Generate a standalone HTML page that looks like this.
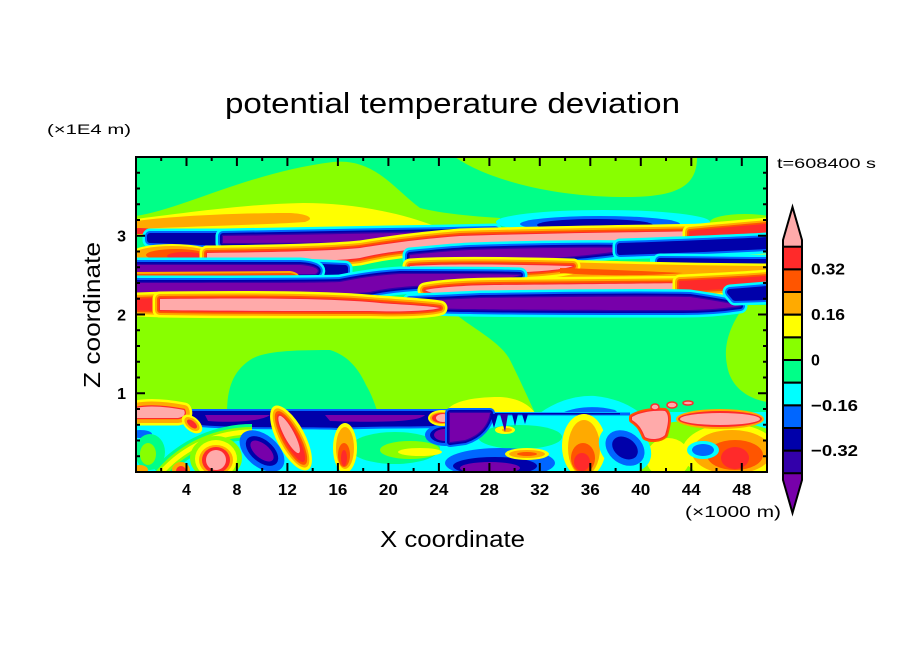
<!DOCTYPE html>
<html><head><meta charset="utf-8">
<style>
html,body{margin:0;padding:0;background:#fff;}
svg{display:block;}
text{font-family:"Liberation Sans",sans-serif;fill:#000;}
.b{font-weight:bold;}
use,path{stroke-linejoin:round;}
.n0{fill:#00ffff;stroke:#00ffff;stroke-width:15}
.n1{fill:#0066ff;stroke:#0066ff;stroke-width:10}
.n2{fill:#0000aa;stroke:#0000aa;stroke-width:6}
.n3{fill:#3300aa;stroke:#3300aa;stroke-width:2.5}
.n4{fill:#7700aa;stroke:none}
.p0{fill:#ffff00;stroke:#ffff00;stroke-width:15}
.p1{fill:#ffaa00;stroke:#ffaa00;stroke-width:10}
.p2{fill:#ff5500;stroke:#ff5500;stroke-width:6}
.p3{fill:#ff2a2a;stroke:#ff2a2a;stroke-width:2.5}
.p4{fill:#ffaaaa;stroke:none}
</style></head>
<body>
<svg width="904" height="654" viewBox="0 0 904 654" xmlns="http://www.w3.org/2000/svg">
<defs>
<clipPath id="cp"><rect x="136" y="157" width="631" height="315"/></clipPath>
<path id="bA" d="M223,236 C300,235 400,233 495,231 C485,234 470,238 460,240 C400,242 330,243 223,243 Z"/>
<path id="bAx" d="M150,236 L225,236 L225,243 L150,240 Z"/>
<path id="bB" d="M207,253 C280,252 330,251 360,248 C385,244 420,239 460,236 C560,233 650,232 717,231 C700,236 650,240 600,242 C540,244 490,246 450,247 C410,249 385,252 360,258 C330,262 260,262 207,261 Z"/>
<path id="bBx" d="M690,232 C720,229 745,227 767,225 L767,233 C740,235 715,237 690,238 Z"/>
<path id="bC" d="M136,265 L300,265 C315,266 322,270 315,274 L136,275 Z"/>
<path id="bCx" d="M300,266 L345,268 L345,272 L300,274 Z"/>
<path id="bC2" d="M410,255 C430,253 450,251 470,250 C530,248 590,247 640,248 C600,255 530,261 470,262 C440,262 420,261 410,259 Z"/>
<path id="bC2x" d="M620,246 C680,244 730,242 767,240 L767,246 C730,248 680,250 620,252 Z"/>
<path id="bBl" d="M660,261 C700,261 740,262 767,262 L767,266 C730,267 690,267 660,266 Z"/>
<path id="bD" d="M410,266 C440,264 500,264 573,266 C560,271 520,273 480,273 C440,273 420,271 410,269 Z"/>
<path id="bDx" d="M560,267 C600,268 650,270 767,271 L767,277 C650,278 600,277 560,273 Z"/>
<path id="bS" d="M136,277 L290,276 C296,277 297,280 290,281 L136,281 Z"/>
<path id="bE" d="M136,283 C250,283 320,283 340,282 C360,278 380,275 400,274 C460,274 500,274 520,275 C505,280 480,283 460,284 C420,285 390,287 370,292 C340,295 250,295 136,295 Z"/>
<path id="bFl" d="M160,299 C250,298 330,298 380,303 C410,305 430,306 440,308 C430,311 400,312 370,311 C300,311 220,311 160,310 Z"/>
<path id="bFx" d="M136,300 L165,299 L165,310 L136,309 Z"/>
<path id="bFr" d="M425,290 C440,287 470,285 500,285 C600,284 680,283 717,283 C700,288 690,291 680,292 C600,294 500,295 460,295 C440,295 430,293 425,290 Z"/>
<path id="bFrx" d="M680,282 C720,280 745,279 767,277 L767,285 C740,287 710,289 680,290 Z"/>
<path id="bG" d="M410,301 C440,300 460,299 480,298 C550,297 650,296 690,297 C710,300 730,303 740,306 C720,309 700,310 683,310 C600,310 520,310 470,309 C440,309 420,307 410,305 Z"/>
<path id="bGx" d="M730,292 L767,289 L767,297 L735,298 Z"/>
<path id="lp" d="M136,408 C150,405 168,407 184,410 C186,414 184,417 178,418 C160,418 148,418 136,418 Z"/>
<path id="st" d="M190,414 L456,414 L456,422 C420,425 380,422 340,425 C300,423 250,426 200,422 Z"/>
<path id="pl" d="M450,413 L490,413 C488,425 480,435 465,440 L450,442 Z"/>
<path id="pb" d="M632,417 C640,412 655,410 665,411 C670,415 668,425 665,435 C660,440 650,440 645,437 C642,430 640,425 632,420 Z"/>
</defs>

<g clip-path="url(#cp)">
<rect x="136" y="157" width="631" height="315" fill="#00ff88"/>
<path d="M136,216 C180,210 250,172 333,162 C375,158 395,190 420,208 C445,214 470,216 500,218 L500,235 L136,235 Z" fill="#88ff00"/>
<path d="M455,157 C480,175 540,196 620,197 C680,198 697,185 697,157 Z" fill="#88ff00"/>
<path d="M136,219 C200,211 250,204 303,203 C350,203 400,212 437,227 L437,235 L136,235 Z" fill="#ffff00"/>
<path d="M137,221 C180,215 250,213 290,213 C310,214 315,219 305,222 C260,225 200,226 137,229 Z" fill="#ffaa00"/>
<ellipse cx="140" cy="231" rx="14" ry="3" fill="#ff2a2a"/>
<ellipse cx="745" cy="222" rx="35" ry="8" fill="#88ff00"/>
<ellipse cx="752" cy="226" rx="22" ry="5" fill="#ffff00"/>
<ellipse cx="603" cy="222" rx="107" ry="12" fill="#00ffff"/>
<ellipse cx="600" cy="224" rx="80" ry="8" fill="#0066ff"/>
<ellipse cx="595" cy="225" rx="58" ry="6" fill="#0000aa"/>
<!-- middle region -->
<path d="M136,305 L445,305 C465,325 500,340 510,360 C520,380 528,398 535,413 L136,413 Z" fill="#88ff00"/>
<path d="M227,413 C227,390 232,372 250,360 C262,352 285,350 330,350 C350,356 360,372 366,385 C372,395 375,405 378,413 Z" fill="#00ff88"/>
<path d="M745,305 C730,325 723,345 727,365 C730,385 745,398 767,402 L767,305 Z" fill="#88ff00"/>
<path d="M445,413 C450,402 470,397 500,397 C520,398 530,406 535,413 Z" fill="#ffff00"/>
<path d="M540,413 C555,402 575,395 595,396 C615,398 630,405 640,413 Z" fill="#00ffff"/>
<path d="M562,413 C575,407 595,405 615,410 L618,413 Z" fill="#0066ff"/>
<!-- right band-region base -->
<rect x="650" y="238" width="117" height="62" fill="#00ffff"/>
<rect x="690" y="252" width="77" height="6" fill="#ffff00"/>

<!-- bands -->
<use href="#bAx" class="n0"/><use href="#bAx" class="n1"/><use href="#bAx" class="n2"/>
<use href="#bA" class="n0"/><use href="#bA" class="n1"/><use href="#bA" class="n2"/><use href="#bA" class="n3"/><use href="#bA" class="n4"/>
<ellipse cx="172" cy="254" rx="42" ry="10" fill="#ffff00"/>
<ellipse cx="172" cy="254" rx="38" ry="8" fill="#ffaa00"/>
<ellipse cx="176" cy="255" rx="30" ry="6" fill="#ff5500"/>
<ellipse cx="185" cy="256" rx="18" ry="4" fill="#ff2a2a"/>
<use href="#bB" class="p0"/><use href="#bB" class="p1"/><use href="#bB" class="p2"/><use href="#bB" class="p3"/><use href="#bB" class="p4"/>
<use href="#bBx" class="p0"/><use href="#bBx" class="p1"/><use href="#bBx" class="p2"/><use href="#bBx" class="p3"/>
<use href="#bC2" class="n0"/><use href="#bC2" class="n1"/><use href="#bC2" class="n2"/><use href="#bC2" class="n3"/><use href="#bC2" class="n4"/>
<use href="#bC2x" class="n0"/><use href="#bC2x" class="n1"/><use href="#bC2x" class="n2"/>
<use href="#bBl" class="n0"/><use href="#bBl" class="n1"/><use href="#bBl" class="n2"/>
<use href="#bCx" class="n0"/><use href="#bCx" class="n1"/><use href="#bCx" class="n2"/>
<use href="#bC" class="n0"/><use href="#bC" class="n1"/><use href="#bC" class="n2"/><use href="#bC" class="n3"/><use href="#bC" class="n4"/>
<use href="#bDx" class="p0"/><use href="#bDx" class="p1"/>
<use href="#bD" class="p0"/><use href="#bD" class="p1"/><use href="#bD" class="p2"/><use href="#bD" class="p3"/><use href="#bD" class="p4"/>
<path d="M560,268 C600,269 640,271 683,273 C650,276 600,276 560,273 Z" fill="#ff5500"/>
<use href="#bS" class="p1"/><use href="#bS" class="p2"/><use href="#bS" class="p3"/><use href="#bS" class="p4"/>
<use href="#bE" class="n0"/><use href="#bE" class="n1"/><use href="#bE" class="n2"/><use href="#bE" class="n3"/><use href="#bE" class="n4"/>
<use href="#bFr" class="p0"/><use href="#bFr" class="p1"/><use href="#bFr" class="p2"/><use href="#bFr" class="p3"/><use href="#bFr" class="p4"/>
<use href="#bFrx" class="p0"/><use href="#bFrx" class="p1"/><use href="#bFrx" class="p2"/><use href="#bFrx" class="p3"/>
<use href="#bG" class="n0"/><use href="#bG" class="n1"/><use href="#bG" class="n2"/><use href="#bG" class="n3"/><use href="#bG" class="n4"/>
<use href="#bGx" class="n0"/><use href="#bGx" class="n1"/><use href="#bGx" class="n2"/>
<use href="#bFx" class="p0"/><use href="#bFx" class="p1"/><use href="#bFx" class="p2"/><use href="#bFx" class="p3"/>
<use href="#bFl" class="p0"/><use href="#bFl" class="p1"/><use href="#bFl" class="p2"/><use href="#bFl" class="p3"/><use href="#bFl" class="p4"/>

<!-- boundary layer -->
<rect x="136" y="412" width="631" height="61" fill="#00ffff"/>
<use href="#st" class="n1"/><use href="#st" class="n2"/>
<path d="M205,415 L270,415 C262,421 235,423 208,421 Z" fill="#7700aa"/>
<path d="M325,415 L425,415 C420,421 390,423 330,421 Z" fill="#7700aa"/>
<ellipse cx="140" cy="434" rx="12" ry="4" fill="#0066ff"/>
<ellipse cx="150" cy="452" rx="15" ry="18" fill="#00ff88"/>
<ellipse cx="148" cy="454" rx="8" ry="11" fill="#88ff00"/>
<path d="M160,474 C185,445 220,432 252,432" fill="none" stroke="#00ff88" stroke-width="16"/>
<path d="M160,474 C185,445 220,432 252,432" fill="none" stroke="#88ff00" stroke-width="10"/>
<path d="M160,474 C185,445 220,432 252,432" fill="none" stroke="#ffff00" stroke-width="5"/>
<ellipse cx="140" cy="470" rx="8" ry="5" fill="#ffaa00"/>
<ellipse cx="181" cy="470" rx="9" ry="8" fill="#ffaa00"/>
<ellipse cx="181" cy="471" rx="5" ry="5" fill="#ff2a2a"/>
<ellipse cx="216" cy="458" rx="26" ry="22" fill="#88ff00"/>
<ellipse cx="216" cy="459" rx="21" ry="19" fill="#ffff00"/>
<ellipse cx="216" cy="460" rx="17" ry="15" fill="#ffaa00"/>
<ellipse cx="216" cy="460" rx="14" ry="13" fill="#ff2a2a"/>
<ellipse cx="216" cy="460" rx="10" ry="10" fill="#ffaaaa"/>
<g transform="rotate(40 262 451)">
<ellipse cx="262" cy="451" rx="26" ry="16" fill="#0066ff"/>
<ellipse cx="262" cy="451" rx="19" ry="11" fill="#0000aa"/>
<ellipse cx="262" cy="451" rx="14" ry="7" fill="#7700aa"/>
</g>
<g transform="rotate(62 291 438)">
<ellipse cx="291" cy="438" rx="36" ry="14" fill="#ffff00"/>
<ellipse cx="291" cy="438" rx="33" ry="11" fill="#ffaa00"/>
<ellipse cx="291" cy="438" rx="30" ry="9" fill="#ff5500"/>
<ellipse cx="291" cy="438" rx="27" ry="7" fill="#ff2a2a"/>
<ellipse cx="287" cy="438" rx="21" ry="5" fill="#ffaaaa"/>
</g>
<ellipse cx="395" cy="448" rx="45" ry="16" fill="#00ff88"/>
<ellipse cx="410" cy="450" rx="30" ry="9" fill="#88ff00"/>
<ellipse cx="420" cy="452" rx="22" ry="4" fill="#ffff00"/>
<ellipse cx="345" cy="448" rx="12" ry="25" fill="#ffff00"/>
<ellipse cx="345" cy="448" rx="9" ry="21" fill="#ffaa00"/>
<ellipse cx="344" cy="455" rx="6" ry="12" fill="#ff5500"/>
<ellipse cx="344" cy="458" rx="3" ry="8" fill="#ff2a2a"/>
<ellipse cx="445" cy="435" rx="20" ry="11" fill="#0066ff"/>
<ellipse cx="445" cy="435" rx="15" ry="8" fill="#0000aa"/>
<ellipse cx="445" cy="435" rx="11" ry="6" fill="#7700aa"/>
<ellipse cx="442" cy="418" rx="14" ry="8" fill="#ffff00"/>
<ellipse cx="442" cy="418" rx="12" ry="6" fill="#ffaa00"/>
<ellipse cx="442" cy="418" rx="10" ry="5" fill="#ff2a2a"/>
<ellipse cx="443" cy="418" rx="7" ry="4" fill="#ffaaaa"/>
<use href="#lp" class="p0"/><use href="#lp" class="p1"/><use href="#lp" class="p3"/><use href="#lp" class="p4"/>
<g transform="rotate(40 192 424)">
<ellipse cx="192" cy="424" rx="12" ry="7" fill="#ffff00"/>
<ellipse cx="192" cy="424" rx="9" ry="5" fill="#ffaa00"/>
<ellipse cx="192" cy="424" rx="6" ry="3" fill="#ff2a2a"/>
</g>
<rect x="450" y="412.5" width="180" height="3" fill="#0066ff"/>
<rect x="460" y="413" width="160" height="1.5" fill="#0000aa"/>
<ellipse cx="520" cy="437" rx="42" ry="12" fill="#00ff88"/>
<ellipse cx="505" cy="430" rx="10" ry="4" fill="#ffff00"/>
<ellipse cx="507" cy="430" rx="5" ry="2" fill="#ffaa00"/>
<use href="#pl" class="n1"/><use href="#pl" class="n2"/><use href="#pl" class="n3"/><use href="#pl" class="n4"/>
<polygon points="490,414 498,414 494,428" fill="#0000aa"/>
<polygon points="500,414 508,414 505,432" fill="#3300aa"/>
<polygon points="512,414 518,414 515,426" fill="#0000aa"/>
<polygon points="522,414 528,414 525,424" fill="#0000aa"/>
<ellipse cx="500" cy="463" rx="55" ry="15" fill="#0066ff"/>
<ellipse cx="495" cy="466" rx="42" ry="9" fill="#0000aa"/>
<ellipse cx="490" cy="468" rx="30" ry="6" fill="#7700aa"/>
<ellipse cx="527" cy="454" rx="22" ry="6" fill="#ffff00"/>
<ellipse cx="527" cy="454" rx="18" ry="4" fill="#ffaa00"/>
<ellipse cx="527" cy="454" rx="10" ry="2" fill="#ff5500"/>
<ellipse cx="584" cy="446" rx="22" ry="32" fill="#ffff00"/>
<ellipse cx="584" cy="448" rx="16" ry="28" fill="#ffaa00"/>
<ellipse cx="583" cy="458" rx="12" ry="15" fill="#ff5500"/>
<ellipse cx="582" cy="462" rx="8" ry="9" fill="#ff2a2a"/>
<ellipse cx="705" cy="452" rx="90" ry="32" fill="#88ff00"/>
<ellipse cx="668" cy="458" rx="22" ry="20" fill="#ffff00"/>
<g transform="rotate(35 625 448)">
<ellipse cx="625" cy="448" rx="28" ry="22" fill="#00ffff"/>
<ellipse cx="625" cy="448" rx="21" ry="16" fill="#0066ff"/>
<ellipse cx="625" cy="448" rx="14" ry="10" fill="#0000aa"/>
</g>
<ellipse cx="730" cy="452" rx="48" ry="28" fill="#ffff00"/>
<ellipse cx="732" cy="452" rx="40" ry="22" fill="#ffaa00"/>
<ellipse cx="735" cy="455" rx="28" ry="15" fill="#ff5500"/>
<ellipse cx="735" cy="458" rx="14" ry="11" fill="#ff2a2a"/>
<ellipse cx="703" cy="450" rx="16" ry="9" fill="#00ffff"/>
<ellipse cx="703" cy="450" rx="11" ry="6" fill="#0066ff"/>
<use href="#pb" class="p2"/><use href="#pb" class="p3"/><use href="#pb" class="p4"/>
<ellipse cx="720" cy="419" rx="44" ry="10" fill="#ffaa00"/>
<ellipse cx="720" cy="419" rx="42" ry="8" fill="#ff2a2a"/>
<ellipse cx="720" cy="419" rx="40" ry="6" fill="#ffaaaa"/>
<ellipse cx="655" cy="407" rx="4" ry="3" fill="#ffaaaa" stroke="#ff2a2a" stroke-width="1.5"/>
<ellipse cx="672" cy="405" rx="5" ry="3" fill="#ffaaaa" stroke="#ff2a2a" stroke-width="1.5"/>
<ellipse cx="688" cy="403" rx="5" ry="2" fill="#ffaaaa" stroke="#ff2a2a" stroke-width="1.5"/>
</g>

<rect x="136" y="157" width="631" height="315" fill="none" stroke="#000" stroke-width="2"/>
<g stroke="#000" stroke-width="2">
<path d="M161.2,472v-4 M186.5,472v-9 M211.7,472v-4 M236.9,472v-9 M262.2,472v-4 M287.4,472v-9 M312.7,472v-4 M337.9,472v-9 M363.2,472v-4 M388.4,472v-9 M413.6,472v-4 M438.9,472v-9 M464.1,472v-4 M489.4,472v-9 M514.6,472v-4 M539.8,472v-9 M565.1,472v-4 M590.3,472v-9 M615.6,472v-4 M640.8,472v-9 M666.0,472v-4 M691.3,472v-9 M716.5,472v-4 M741.8,472v-9"/>
<path d="M161.2,157v4 M186.5,157v9 M211.7,157v4 M236.9,157v9 M262.2,157v4 M287.4,157v9 M312.7,157v4 M337.9,157v9 M363.2,157v4 M388.4,157v9 M413.6,157v4 M438.9,157v9 M464.1,157v4 M489.4,157v9 M514.6,157v4 M539.8,157v9 M565.1,157v4 M590.3,157v9 M615.6,157v4 M640.8,157v9 M666.0,157v4 M691.3,157v9 M716.5,157v4 M741.8,157v9"/>
<path d="M136,456.25h4 M136,440.5h4 M136,424.75h4 M136,409h4 M136,393.25h9 M136,377.5h4 M136,361.75h4 M136,346h4 M136,330.25h4 M136,314.5h9 M136,298.75h4 M136,283h4 M136,267.25h4 M136,251.5h4 M136,235.75h9 M136,220h4 M136,204.25h4 M136,188.5h4 M136,172.75h4"/>
<path d="M767,456.25h-4 M767,440.5h-4 M767,424.75h-4 M767,409h-4 M767,393.25h-9 M767,377.5h-4 M767,361.75h-4 M767,346h-4 M767,330.25h-4 M767,314.5h-9 M767,298.75h-4 M767,283h-4 M767,267.25h-4 M767,251.5h-4 M767,235.75h-9 M767,220h-4 M767,204.25h-4 M767,188.5h-4 M767,172.75h-4"/>
</g>

<g class="b" font-size="16" text-anchor="middle">
<text x="186.5" y="495">4</text>
<text x="236.9" y="495">8</text>
<text x="287.4" y="495" textLength="19" lengthAdjust="spacingAndGlyphs">12</text>
<text x="337.9" y="495" textLength="19" lengthAdjust="spacingAndGlyphs">16</text>
<text x="388.4" y="495" textLength="19" lengthAdjust="spacingAndGlyphs">20</text>
<text x="438.9" y="495" textLength="19" lengthAdjust="spacingAndGlyphs">24</text>
<text x="489.4" y="495" textLength="19" lengthAdjust="spacingAndGlyphs">28</text>
<text x="539.8" y="495" textLength="19" lengthAdjust="spacingAndGlyphs">32</text>
<text x="590.3" y="495" textLength="19" lengthAdjust="spacingAndGlyphs">36</text>
<text x="640.8" y="495" textLength="19" lengthAdjust="spacingAndGlyphs">40</text>
<text x="691.3" y="495" textLength="19" lengthAdjust="spacingAndGlyphs">44</text>
<text x="741.8" y="495" textLength="19" lengthAdjust="spacingAndGlyphs">48</text>
</g>
<g class="b" font-size="16" text-anchor="end">
<text x="126" y="399">1</text>
<text x="126" y="320.5">2</text>
<text x="126" y="241.5">3</text>
</g>

<text x="225" y="113" font-size="29" textLength="455" lengthAdjust="spacingAndGlyphs">potential temperature deviation</text>
<text x="47" y="134" font-size="14" textLength="84" lengthAdjust="spacingAndGlyphs">(×1E4 m)</text>
<text x="777" y="168" font-size="14" textLength="99" lengthAdjust="spacingAndGlyphs">t=608400 s</text>
<text x="685" y="517" font-size="16" textLength="96" lengthAdjust="spacingAndGlyphs">(×1000 m)</text>
<text x="380" y="547" font-size="23" textLength="145" lengthAdjust="spacingAndGlyphs">X coordinate</text>
<text x="0" y="0" font-size="23" textLength="146" lengthAdjust="spacingAndGlyphs" transform="translate(100,388) rotate(-90)">Z coordinate</text>

<g stroke="#000" stroke-width="2" stroke-linejoin="miter">
<polygon points="792.5,207 783,240 783,247 802,247 802,240" fill="#ffaaaa"/>
<rect x="783" y="246.7" width="19" height="22.67" fill="#ff2a2a"/>
<rect x="783" y="269.4" width="19" height="22.67" fill="#ff5500"/>
<rect x="783" y="292.0" width="19" height="22.67" fill="#ffaa00"/>
<rect x="783" y="314.7" width="19" height="22.67" fill="#ffff00"/>
<rect x="783" y="337.4" width="19" height="22.67" fill="#88ff00"/>
<rect x="783" y="360.0" width="19" height="22.67" fill="#00ff88"/>
<rect x="783" y="382.7" width="19" height="22.67" fill="#00ffff"/>
<rect x="783" y="405.4" width="19" height="22.67" fill="#0066ff"/>
<rect x="783" y="428.0" width="19" height="22.67" fill="#0000aa"/>
<rect x="783" y="450.7" width="19" height="22.67" fill="#3300aa"/>
<polygon points="783,473.3 783,480 792.5,513 802,480 802,473.3" fill="#7700aa"/>
</g>
<g class="b" font-size="16">
<text x="811" y="274.5" textLength="34" lengthAdjust="spacingAndGlyphs">0.32</text>
<text x="811" y="320" textLength="34" lengthAdjust="spacingAndGlyphs">0.16</text>
<text x="811" y="365.5">0</text>
<text x="811" y="411" textLength="47" lengthAdjust="spacingAndGlyphs">−0.16</text>
<text x="811" y="456" textLength="47" lengthAdjust="spacingAndGlyphs">−0.32</text>
</g>
</svg>
</body></html>
